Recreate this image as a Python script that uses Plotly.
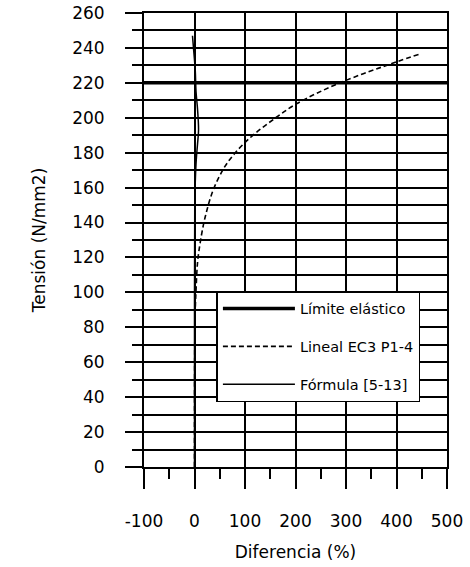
import plotly.graph_objects as go

# Data
limite_x = [-100, 500]
limite_y = [220, 220]

lineal_y = [0, 70, 90, 101, 117, 128, 143, 159, 172, 179, 185, 191, 199, 208, 220, 232, 236.5]
lineal_x = [0, 0.5, 1.5, 3, 6, 11, 21, 37.5, 60, 78, 97, 120, 156, 202, 288, 400, 446]

formula_y = [0, 100, 150, 163, 176, 185, 193, 205, 215, 227, 240, 247]
formula_x = [0, 0, 0.5, 1.5, 3.5, 6, 8, 6, 3, 1.5, -2, -4]

x_ticks = [-100, 0, 100, 200, 300, 400, 500]
y_ticks = list(range(0, 261, 20))

FONT = "DejaVu Sans"

fig = go.Figure()
fig.add_trace(go.Scatter(x=limite_x, y=limite_y, mode="lines", name="Límite elástico",
                         legendgroup="a", line=dict(color="black", width=3.5)))
fig.add_trace(go.Scatter(x=lineal_x, y=lineal_y, mode="lines", name="Lineal EC3 P1-4",
                         legendgroup="b", line=dict(color="black", width=1.6, dash="5px,3px", shape="spline")))
fig.add_trace(go.Scatter(x=formula_x, y=formula_y, mode="lines", name="Fórmula [5-13]",
                         legendgroup="c", line=dict(color="black", width=1.5, shape="spline")))

fig.update_layout(
    width=470, height=567,
    margin=dict(l=143.5, r=23, t=13, b=100, autoexpand=False),
    paper_bgcolor="white", plot_bgcolor="white",
    font=dict(family=FONT, color="black", size=17),
    showlegend=True,
    legend=dict(x=0.239, y=0.3875, xanchor="left", yanchor="top",
                bgcolor="white", bordercolor="black", borderwidth=1.5,
                font=dict(size=14.5, family=FONT), tracegroupgap=16, itemwidth=72),
)

fig.update_xaxes(
    range=[-100, 500], tickvals=x_ticks, ticktext=[str(v) for v in x_ticks],
    automargin=False,
    showgrid=True, gridcolor="black", gridwidth=2, zeroline=False,
    showline=True, linecolor="black", linewidth=2, mirror=True,
    ticks="outside", ticklen=20, tickwidth=2, tickcolor="black",
    ticklabelstandoff=18, tickfont=dict(size=17),
    minor=dict(dtick=50, tick0=-100, ticks="outside", ticklen=10, tickwidth=2,
               tickcolor="black", showgrid=False),
    title=dict(text="Diferencia (%)", font=dict(size=17), standoff=16),
)
fig.update_yaxes(
    range=[0, 260], tickvals=y_ticks, ticktext=[str(v) for v in y_ticks],
    automargin=False,
    showgrid=True, gridcolor="black", gridwidth=2, zeroline=False,
    showline=True, linecolor="black", linewidth=2, mirror=True,
    ticks="outside", ticklen=17, tickwidth=2, tickcolor="black",
    ticklabelstandoff=17, tickfont=dict(size=17),
    minor=dict(dtick=10, tick0=0, ticks="outside", ticklen=10, tickwidth=2,
               tickcolor="black", showgrid=True, gridcolor="black", gridwidth=2),
    title=dict(text="Tensión (N/mm2)", font=dict(size=17), standoff=22),
)

fig.write_html("out.html")
